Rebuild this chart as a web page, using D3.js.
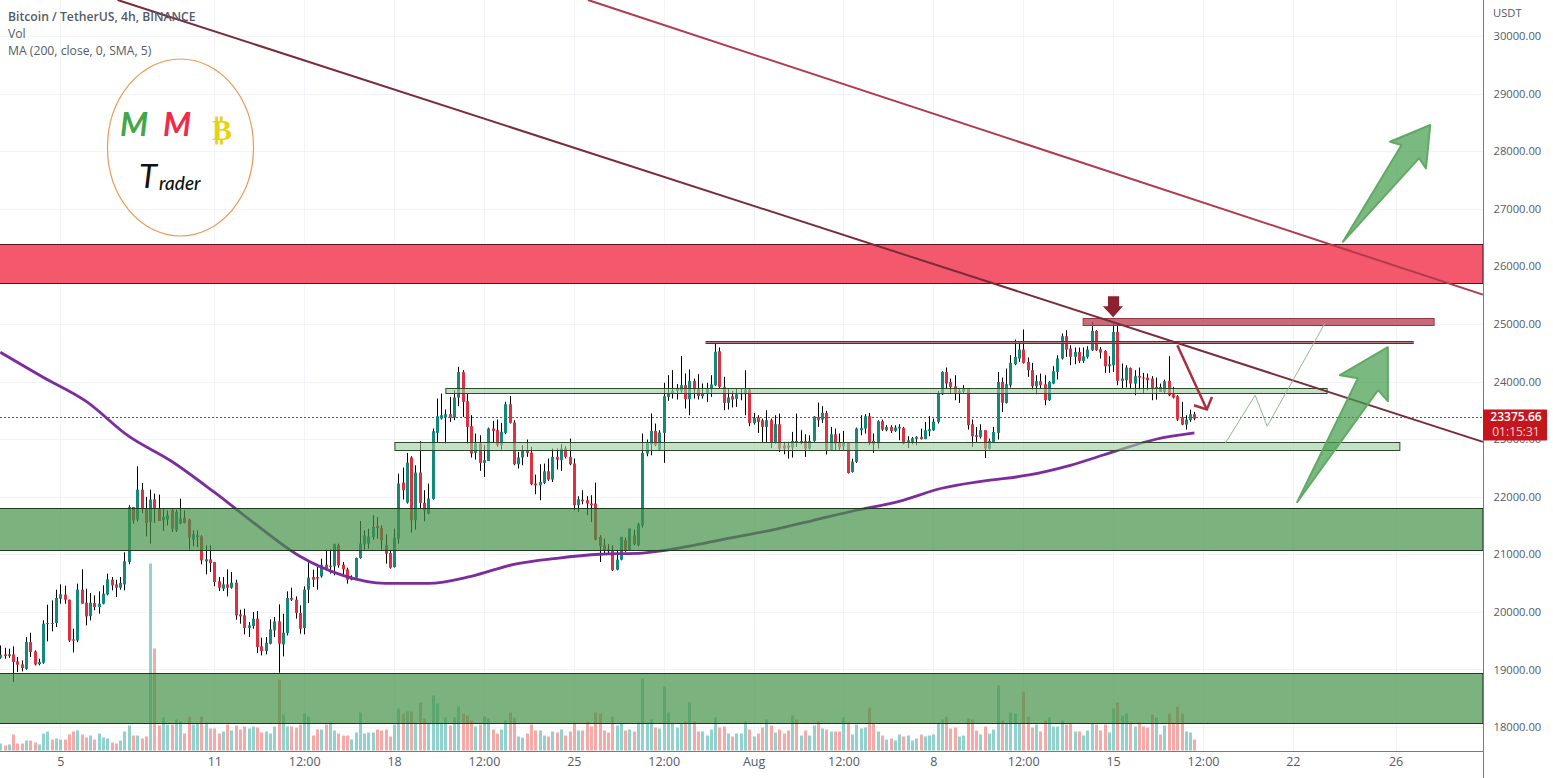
<!DOCTYPE html>
<html>
<head>
<meta charset="utf-8">
<style>
  body { margin: 0; background: #fff; }
  svg { display: block; }
  text { font-family: "Open Sans", sans-serif; }
</style>
</head>
<body>
<div id="chart"></div>
<script src="https://cdnjs.cloudflare.com/ajax/libs/d3/7.8.5/d3.min.js"></script>
<script>
// BTCUSDT 4h candles
const opens = [
19203,19261,19232,19261,19140,19087,19012,19475,19313,19093,19116,19788,19806,19806,20228,20298,20211,19522,19504,20385,
20159,19927,20153,20084,20141,20304,20558,20477,20419,20477,20865,21821,21601,22122,21792,21560,21954,21792,21590,21601,
21763,21416,21532,21636,21601,21254,21300,21311,20877,20912,20865,20530,20402,20477,20419,20506,19956,19939,19719,19753,
19881,19400,19319,19446,19678,19834,19435,19632,20240,20211,19979,19719,20385,20605,20605,20616,20819,20779,20790,21155,
20819,20738,20558,20593,20935,21172,21184,21300,21491,21456,21155,21022,20779,21271,22245,21897,22679,21590,22419,21892,
21706,21961,23108,23357,23374,23432,23374,23722,24162,23658,23224,22760,22922,22587,22621,23183,23154,22894,23108,23606,
23287,22563,22679,22807,22766,22227,22198,22239,22442,22297,22691,22633,22836,22691,22575,21851,21949,21938,21880,21880,
21301,21156,21081,21058,20733,20907,21243,21069,21330,21156,21503,22749,22911,23143,22818,23108,23733,23791,23838,23838,
23936,23693,24011,23861,23745,23791,23867,23936,24527,23907,23629,23744,23698,23779,23779,23860,23281,23374,23327,23212,
23327,22934,23258,22893,22893,22853,22968,22939,22968,22835,22968,23385,23339,23455,22806,23084,22934,22876,22934,22430,
22603,23154,23183,23397,22968,22922,23310,23154,23212,23142,23183,23194,22951,22951,23003,23038,23003,23136,23154,23298,
23779,24167,23993,23918,23802,23820,23878,23258,23067,23038,23154,22835,22951,23107,23993,23629,23936,24300,24399,24555,
24341,24196,23918,24005,23953,23675,23964,24167,24399,24787,24572,24428,24514,24358,24428,24543,24879,24561,24532,24265,
24283,24862,24011,24022,24236,23964,24098,24068,24068,24051,23877,23906,23819,24011,23779,23744,23385,23252,23327,23431
];
const highs = [
19417,19377,19360,19400,19215,19157,19562,19638,19331,19186,19852,20124,20199,20385,20477,20454,20211,19707,20489,20738,
20402,20327,20286,20356,20460,20663,20605,20558,20605,21033,21850,21821,22528,22238,21995,22122,22053,22035,21792,21763,
21792,21775,21966,21763,21618,21416,21416,21329,21155,21155,20865,20605,20605,20738,20692,20558,20037,20055,19823,19997,
20014,19551,19562,19869,19910,20130,19968,20356,20419,20269,20113,20443,20894,20732,20779,20923,21080,21080,21184,21184,
20865,20767,20634,20941,21578,21416,21445,21676,21647,21503,21346,21068,21445,22400,22505,22760,22702,22546,22963,22112,
22227,23183,23704,23791,23513,23733,23849,24255,24197,23791,23415,23096,23067,22894,23200,23316,23340,23282,23647,23745,
23328,22778,22894,22992,22865,22384,22563,22575,22662,22836,22836,22911,22876,23009,22662,22007,22112,22007,22025,22245,
21330,21272,21174,21156,21069,21301,21289,21446,21428,21544,23096,22992,23444,23270,23154,23977,24110,24197,23954,24440,
24139,24208,24052,24127,23965,23977,24110,24660,24591,24081,23878,23837,23878,23878,24196,23878,23455,23414,23356,23501,
23356,23414,23443,22951,22951,23125,23443,23154,23084,23067,23397,23634,23571,23490,23212,23183,23096,23142,22934,22661,
23200,23414,23432,23455,23096,23327,23339,23241,23241,23241,23258,23212,23049,23038,23049,23183,23298,23397,23356,23837,
24179,24243,24051,24109,23878,23936,23878,23339,23212,23258,23154,23009,23212,24167,24069,24225,24457,24729,24689,24903,
24416,24324,24109,24138,24109,24005,24265,24457,24833,24891,24630,24590,24590,24590,24613,25036,24891,24601,24543,24439,
25007,25007,24312,24283,24242,24196,24242,24150,24138,24092,24068,23964,24034,24439,23906,23762,23646,23414,23512,23472
];
const lows = [
19186,19186,19203,18780,18954,18966,18995,19215,19070,19070,19099,19487,19661,19736,20141,20141,19475,19296,19475,20141,
19765,19852,20026,19968,20130,20286,20373,20257,20385,20373,20825,21532,21572,21717,21311,21184,21543,21578,21404,21503,
21387,21387,21520,21532,21080,21138,21126,20825,20651,20692,20443,20362,20362,20269,20402,19863,19794,19609,19562,19707,
19284,19244,19261,19435,19562,18943,19226,19591,20188,19881,19620,19609,20153,20431,20385,20593,20750,20663,20634,20767,
20645,20489,20547,20576,20923,21080,21097,21254,21271,21080,20836,20750,20767,21184,21950,21880,21376,21428,21805,21573,
21695,21949,22951,23340,22922,23299,23328,23571,23386,22922,22679,22644,22448,22343,22621,22934,22865,22818,23085,23270,
22546,22488,22546,22691,22198,22042,21938,22216,22274,22256,22471,22448,22662,22546,21764,21735,21868,21677,21561,21243,
20866,21000,21011,20710,20722,20895,21040,21058,21156,21139,21463,22702,22720,22876,22807,22587,23664,23704,23687,23803,
23531,23415,23704,23687,23704,23646,23733,23919,23878,23502,23513,23548,23559,23675,23414,23223,23252,23107,22951,22951,
22847,22922,22777,22737,22661,22679,22864,22910,22690,22818,22951,23212,23281,22731,22795,22795,22795,22795,22401,22418,
22586,23067,23096,22893,22760,22835,23142,23136,23107,23125,22980,22910,22847,22910,22893,22992,22997,23049,23142,23269,
23768,23878,23791,23675,23629,23791,23165,22864,22951,23009,22673,22818,22939,22992,23472,23617,23895,24283,24341,24312,
24080,23860,23779,23878,23588,23663,23953,24034,24381,24428,24283,24300,24323,24323,24399,24532,24532,24399,24150,24150,
24167,23935,23877,23895,23877,23762,23860,23790,23848,23675,23686,23819,23790,23744,23704,23316,23240,23165,23298,23327
];
const closes = [
19255,19232,19261,19128,19082,19024,19475,19302,19087,19128,19794,19806,19788,20240,20304,20211,19504,19499,20385,20141,
19921,20159,20084,20141,20315,20564,20460,20419,20501,20877,21821,21590,22122,21792,21543,21949,21792,21578,21647,21676,
21445,21734,21618,21543,21288,21346,21329,20894,20912,20848,20518,20419,20477,20419,20506,19939,19921,19719,19765,19881,
19388,19319,19464,19695,19834,19446,19638,20240,20211,19979,19707,20385,20593,20558,20576,20819,20761,20802,21172,20808,
20738,20558,20605,20935,21184,21329,21311,21474,21456,21242,21010,20767,21288,22227,22112,22592,21590,22419,21892,21764,
21967,23137,23397,23415,23432,23368,23722,24162,23646,23212,22749,22922,22587,22633,23183,23143,22894,23125,23606,23282,
22563,22679,22807,22760,22216,22198,22256,22442,22297,22691,22645,22836,22691,22563,21851,21955,21920,21880,21851,21254,
21139,21069,21052,20722,20907,21301,21069,21446,21174,21521,22760,22934,23143,22894,23114,23745,23791,23838,23890,23936,
23693,24011,23861,23745,23791,23878,23948,24515,23907,23629,23722,23687,23779,23802,23860,23281,23368,23298,23212,23327,
22934,23258,22835,22835,22853,22968,22939,22968,22835,22968,23391,23327,23455,22806,23084,22922,22853,22934,22412,22609,
23183,23194,23397,22934,22910,23310,23165,23212,23142,23200,23212,22922,22980,23015,23038,23003,23154,23171,23304,23791,
24167,23965,23907,23802,23837,23878,23241,23049,23038,23154,22835,22968,23125,23993,23629,23953,24324,24428,24555,24324,
24196,23918,24005,23936,23675,23993,24179,24399,24787,24555,24428,24514,24358,24439,24555,24879,24543,24503,24265,24300,
24862,24011,24051,24242,23964,24092,24068,24051,24022,23877,23906,23819,24005,23762,23721,23339,23252,23339,23431,23356
];
// volume bars, 94 + 51 + 135 readings
const volumes = [
7,5,6,16,7,7,10,10,8,6,17,19,11,12,11,11,16,19,20,16,
13,15,11,17,13,12,8,7,10,19,25,15,15,12,14,187,102,25,33,26,
26,31,29,17,34,26,27,34,28,22,22,17,19,26,20,25,21,24,22,24,
23,18,19,17,24,71,36,24,24,23,26,37,34,15,21,21,26,28,20,17,
15,15,11,18,38,17,18,18,21,20,21,14,26,42,37,39,39,28,48,32,
27,55,47,27,33,25,33,44,37,35,30,24,26,34,32,21,17,21,30,38,
33,14,13,17,26,20,20,15,14,19,18,21,15,19,28,20,20,29,24,38,
37,20,18,34,25,27,20,21,19,28,72,28,31,23,22,64,38,27,23,27,
29,48,29,19,19,15,21,33,23,24,17,14,17,17,29,21,14,17,23,31,
25,18,21,17,20,35,31,15,20,15,25,29,22,21,19,19,19,33,28,16,
26,22,23,43,27,19,15,11,12,10,16,14,15,10,12,16,14,15,16,27,
31,34,22,23,14,15,32,31,20,16,24,17,21,65,30,27,38,37,27,59,
34,23,26,19,30,33,24,24,30,26,27,19,19,15,20,27,26,20,26,18,
42,48,35,37,28,24,28,24,23,36,33,16,25,37,27,44,37,19,18,11
];
// 200 SMA sampled every 10 candles
const maIndex = [0,10,20,30,40,50,60,70,80,90,100,110,120,130,140,150,160,170,180,190,200,210,220,230,240,250,260,270,279];
const maValues = [24509,24075,23658,23050,22615,22077,21500,20964,20634,20495,20495,20617,20825,20930,21000,21020,21126,21277,21416,21590,21764,21920,22146,22273,22372,22545,22777,22997,23107];

const priceTicks = [18000,19000,20000,21000,22000,23000,24000,25000,26000,27000,28000,29000,30000];
const timeTicks = [14,50,71,92,113,134,155,176,197,218,239,260,281,302,326];
const timeLabels = ['5','11','12:00','18','12:00','25','12:00','Aug','12:00','8','12:00','15','12:00','22','26'];
const lastPrice = 23375.66;

// drawings, [candle index, price]
const trendA = [[27.4,30626],[346.4,22951]];
const trendB = [[137.3,30626],[346.4,25508]];
const redZone = [-2,346.4,26386,25708];
const greenZones = [[-2,346.4,21810,21080],[-2,346.4,18943,18075]];
const lightZones = [[104.1,310,23879,23792],[92.2,327,22958,22819]];
const resistLine = [164.9,330.1,24695,24660];
const resistBox = [253,335,25100,24980];
const arrowUp1 = [[313.7,26426],[327.4,28106],[324.7,28163],[334.1,28454],[333.1,27701],[331.5,27880]];
const arrowUp2 = [[303,21903],[317.2,24057],[313,24110],[324.2,24596],[324.2,23658],[321.9,23849]];
const thinPath = [[286.2,22928],[293.2,23762],[296,23223],[309.5,25013]];
const redArrow = [[275,24631],[281.9,23514]];
const redArrowHead = [[278.9,23588],[281.9,23514],[283.1,23733]];
const downArrow = [[258.8,25482],[261.4,25482],[261.4,25308],[262.3,25308],[260,25117],[257.6,25308],[258.8,25308]];

const width = 1553, height = 778;
const plotRight = 1483, plotBottom = 751;

const svg = d3.select('#chart').append('svg')
  .attr('width', width)
  .attr('height', height);

const x = d3.scaleLinear().domain([0, 346.4]).range([0.3, 1482.9]);
const y = d3.scaleLinear().domain([18000, 30000]).range([727, 36]);
const yVol = d3.scaleLinear().domain([0, 187]).range([750.5, 563.5]);

// grid
svg.append('g').selectAll('line').data(priceTicks).enter().append('line')
  .attr('x1', 0).attr('x2', plotRight)
  .attr('y1', d => Math.round(y(d)) + 0.5).attr('y2', d => Math.round(y(d)) + 0.5)
  .attr('stroke', '#f1f3f8');
svg.append('g').selectAll('line').data(timeTicks).enter().append('line')
  .attr('y1', 0).attr('y2', plotBottom)
  .attr('x1', d => Math.round(x(d)) + 0.5).attr('x2', d => Math.round(x(d)) + 0.5)
  .attr('stroke', '#f1f3f8');

const idx = d3.range(closes.length);
const upCol = '#14897a', downCol = '#e0303f';

// volume
svg.append('g').selectAll('rect').data(volumes).enter().append('rect')
  .attr('x', (d, i) => Math.round(x(i)) - 1)
  .attr('width', 3)
  .attr('y', d => yVol(d))
  .attr('height', d => yVol(0) - yVol(d))
  .attr('fill', (d, i) => closes[i] >= opens[i] ? '#92d2cc' : '#f7a9a7');

// dotted last price line
svg.append('line')
  .attr('x1', 0).attr('x2', plotRight)
  .attr('y1', Math.round(y(lastPrice)) + 0.5).attr('y2', Math.round(y(lastPrice)) + 0.5)
  .attr('stroke', '#c8283a').attr('stroke-dasharray', '2 2');

// candles
const candles = svg.append('g').selectAll('g').data(idx).enter().append('g');
candles.append('line')
  .attr('x1', i => Math.round(x(i)) + 0.5).attr('x2', i => Math.round(x(i)) + 0.5)
  .attr('y1', i => y(highs[i])).attr('y2', i => y(lows[i]))
  .attr('stroke', '#000');
candles.append('rect')
  .attr('x', i => Math.round(x(i)) - 1)
  .attr('width', 3)
  .attr('y', i => y(Math.max(opens[i], closes[i])))
  .attr('height', i => Math.max(1, Math.abs(y(opens[i]) - y(closes[i]))))
  .attr('fill', i => closes[i] >= opens[i] ? upCol : downCol);

// moving average
const maLine = d3.line()
  .curve(d3.curveMonotoneX)
  .x((d, i) => x(maIndex[i]))
  .y(d => y(d));
svg.append('path').datum(maValues)
  .attr('d', maLine)
  .attr('fill', 'none')
  .attr('stroke', '#7b2d9e')
  .attr('stroke-width', 2.8);

// zones
function zone(z, fill, stroke) {
  return svg.append('rect')
    .attr('x', x(z[0]))
    .attr('width', x(z[1]) - x(z[0]))
    .attr('y', Math.round(y(z[2])) + 0.5)
    .attr('height', Math.round(y(z[3])) - Math.round(y(z[2])))
    .attr('fill', fill)
    .attr('stroke', stroke);
}
greenZones.forEach(z => zone(z, 'rgba(69,146,71,0.7)', '#1c3a1c'));
lightZones.forEach(z => zone(z, 'rgba(158,205,158,0.6)', '#2d4a2d'));
zone(redZone, 'rgba(243,70,92,0.9)', '#5a1420');
zone(resistLine, 'rgba(170,90,100,0.8)', '#6e2530');
zone(resistBox, 'rgba(190,70,85,0.8)', '#8f3a45');

// trend lines
const lineGen = d3.line().x(d => x(d[0])).y(d => y(d[1]));
svg.append('path').datum(trendB).attr('d', lineGen).attr('fill', 'none').attr('stroke', '#b23a4c').attr('stroke-width', 2);
svg.append('path').datum(trendA).attr('d', lineGen).attr('fill', 'none').attr('stroke', '#7a2c3a').attr('stroke-width', 2);

// arrows
[arrowUp1, arrowUp2].forEach(a => {
  svg.append('path').datum(a)
    .attr('d', d => lineGen(d) + 'Z')
    .attr('fill', 'rgba(66,155,72,0.7)')
    .attr('stroke', '#62a966')
    .attr('stroke-width', 2)
    .attr('stroke-linejoin', 'round');
});
svg.append('path').datum(thinPath).attr('d', lineGen).attr('fill', 'none').attr('stroke', '#94b894').attr('stroke-width', 1);
svg.append('path').datum(redArrow).attr('d', lineGen).attr('fill', 'none').attr('stroke', '#a8303f').attr('stroke-width', 2.5);
svg.append('path').datum(redArrowHead).attr('d', lineGen).attr('fill', 'none').attr('stroke', '#a8303f').attr('stroke-width', 2.5);
svg.append('path').datum(downArrow).attr('d', d => lineGen(d) + 'Z').attr('fill', '#8e2130');

// logo
const logo = svg.append('g');
logo.append('ellipse')
  .attr('cx', 180.5).attr('cy', 147.5).attr('rx', 73).attr('ry', 88.5)
  .attr('fill', 'none').attr('stroke', '#ea9a55').attr('stroke-width', 1.2);
logo.append('text').attr('x', 120).attr('y', 136).text('M')
  .style('font', 'italic 700 32px Lato').attr('fill', '#43a648');
logo.append('text').attr('x', 163).attr('y', 136).text('M')
  .style('font', 'italic 700 32px Lato').attr('fill', '#ee2c4a');
logo.append('text').attr('x', 212).attr('y', 140).text('\u20BF')
  .style('font', '700 30px "DejaVu Sans"').attr('fill', '#e6d312');
logo.append('text').attr('x', 139).attr('y', 188).text('T')
  .style('font', 'italic 400 33px Lato').attr('fill', '#111');
logo.append('text').attr('x', 159).attr('y', 190).text('rader')
  .style('font', 'italic 500 19px Lato').attr('fill', '#111');

// legend
const legend = svg.append('g').attr('fill', '#555a66').style('font-size', '12.2px');
legend.append('text').attr('x', 8).attr('y', 21).attr('font-weight', 600).text('Bitcoin / TetherUS, 4h, BINANCE');
legend.append('text').attr('x', 8).attr('y', 38).text('Vol');
legend.append('text').attr('x', 8).attr('y', 55).text('MA (200, close, 0, SMA, 5)');

// axes
const yAxis = svg.append('g')
  .attr('transform', `translate(${plotRight + 0.5},0)`)
  .call(d3.axisRight(y).tickValues(priceTicks).tickFormat(d3.format('.2f')).tickSize(0).tickPadding(10));
yAxis.select('.domain').remove();
yAxis.selectAll('text').attr('fill', '#555a66').style('font-size', '11.2px').style('font-family', '"Open Sans"');

const xAxis = svg.append('g')
  .attr('transform', `translate(0,${plotBottom - 0.5})`)
  .call(d3.axisBottom(x).tickValues(timeTicks).tickFormat((d, i) => timeLabels[i]).tickSize(0).tickPadding(7));
xAxis.select('.domain').remove();
xAxis.selectAll('text').attr('fill', '#555a66').style('font-size', '12.5px').style('font-family', '"Open Sans"');

svg.append('line').attr('x1', plotRight + 0.5).attr('x2', plotRight + 0.5).attr('y1', 0).attr('y2', height).attr('stroke', '#787b86');
svg.append('line').attr('x1', 0).attr('x2', plotRight).attr('y1', plotBottom + 0.5).attr('y2', plotBottom + 0.5).attr('stroke', '#787b86');

svg.append('text').attr('x', 1493).attr('y', 17).attr('fill', '#555a66').style('font-size', '11.2px').text('USDT');

// last price tag
const tagY = y(lastPrice);
svg.append('rect').attr('x', plotRight).attr('y', tagY - 8).attr('width', 64).attr('height', 31).attr('rx', 1).attr('fill', '#c4161c');
svg.append('text').attr('x', 1516).attr('y', tagY + 4).attr('text-anchor', 'middle').attr('fill', '#fff')
  .style('font-size', '12px').style('font-weight', 600).text(lastPrice.toFixed(2));
svg.append('text').attr('x', 1516).attr('y', tagY + 19).attr('text-anchor', 'middle').attr('fill', '#f5d5d5')
  .style('font-size', '12px').text('01:15:31');
</script>
</body>
</html>
